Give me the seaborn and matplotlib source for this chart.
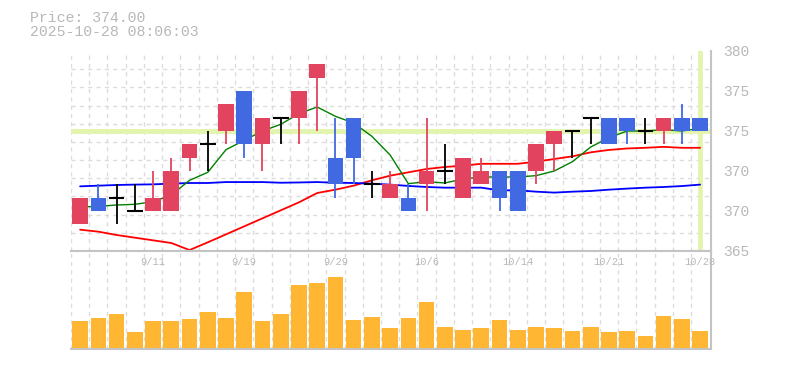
import numpy as np
import matplotlib
matplotlib.use("Agg")
import matplotlib.pyplot as plt
import seaborn as sns

sns.set_theme(style="white")
plt.rcParams["font.family"] = ["Liberation Mono", "DejaVu Sans Mono"]

# -----------------------------
# Data
# -----------------------------
last_price = 374.0
stamp = "2025-10-28 08:06:03"

opens = [367, 369, 369, 368, 368, 368, 372, 373, 374, 377, 373, 375, 375, 378, 372, 375, 370, 369,
         369, 370, 371, 369, 370, 371, 371, 371, 373, 374, 375, 375, 375, 374, 374, 375, 375]
closes = [369, 368, 369, 368, 369, 371, 373, 373, 376, 373, 375, 375, 377, 379, 370, 372, 370, 370,
          368, 371, 371, 372, 371, 369, 368, 373, 374, 374, 375, 373, 374, 374, 375, 374, 374]
highs = [369, 370, 370, 370, 371, 372, 373, 374, 376, 377, 375, 375, 377, 379, 375, 375, 371, 371,
         370, 375, 373, 372, 372, 371, 371, 373, 374, 374, 375, 375, 375, 375, 375, 376, 375]
lows = [367, 368, 367, 368, 368, 368, 371, 371, 373, 372, 371, 373, 373, 374, 369, 370, 369, 369,
        368, 368, 370, 369, 370, 368, 368, 370, 371, 372, 373, 373, 373, 373, 373, 373, 374]

ma_short = [368.3, 368.35, 368.45, 368.5, 368.7, 369.2, 370.3, 370.9, 372.6, 373.3, 374.0, 374.5,
            375.3, 375.8, 375.1, 374.6, 373.6, 372.2, 370.05, 370.2, 370.1, 370.4, 370.55, 370.55,
            370.55, 370.65, 371.0, 371.7, 372.8, 373.5, 374.0, 374.0, 374.1, 374.0, 374.2]
ma_mid = [366.6, 366.45, 366.2, 366.0, 365.8, 365.6, 365.07, 365.65, 366.25, 366.85, 367.45, 368.05,
          368.65, 369.35, 369.6, 369.9, 370.3, 370.65, 370.9, 371.15, 371.3, 371.4, 371.54, 371.54,
          371.54, 371.7, 371.9, 372.1, 372.4, 372.58, 372.69, 372.74, 372.81, 372.74, 372.74]
ma_long = [369.85, 369.9, 369.95, 369.98, 370.0, 370.05, 370.1, 370.1, 370.17, 370.17, 370.17, 370.12,
           370.14, 370.17, 370.12, 370.1, 370.05, 369.98, 369.88, 369.8, 369.75, 369.75, 369.75, 369.55,
           369.55, 369.45, 369.38, 369.45, 369.5, 369.6, 369.68, 369.75, 369.8, 369.87, 369.98]

volume = [80, 89, 101, 47, 80, 80, 86, 107, 89, 167, 80, 101, 188, 194, 212, 83, 92, 59,
          89, 137, 62, 53, 59, 83, 53, 62, 59, 50, 62, 47, 50, 35, 95, 86, 50]

date_ticks = [4, 9, 14, 19, 24, 29, 34]
date_labels = ["9/11", "9/19", "9/29", "10/6", "10/14", "10/21", "10/28"]

price_ticks = [365, 368, 371, 374, 377, 380]
price_labels = ["365", "370", "370", "375", "375", "380"]

# -----------------------------
# Colours
# -----------------------------
UP = "#E2435F"
DOWN = "#4169E1"
VOL = "#FFB733"
MARK = "#E3F4AE"
GRID = "#DCDCDC"
FRAME = "#C4C4C4"
TXT = "#B8B8B8"

x = np.arange(len(opens))
o = np.array(opens, float)
c = np.array(closes, float)
h = np.array(highs, float)
l = np.array(lows, float)

fig = plt.figure(figsize=(7.85, 3.70), dpi=100)
ax = fig.add_axes([71 / 785, 119 / 370, 639.7 / 785, 200 / 370])
axv = fig.add_axes([71 / 785, 20.7 / 370, 639.7 / 785, 98.3 / 370])

# current price markers
ax.axhline(last_price, color=MARK, lw=3.5, zorder=1)
ax.axvline(x[-1], ymin=0.015, ymax=0.995, color=MARK, lw=3.5, zorder=1)

# moving averages
sns.lineplot(x=x, y=ma_mid, color="#FF0000", lw=1.3, ax=ax, zorder=2)
sns.lineplot(x=x, y=ma_long, color="#0000FF", lw=1.3, ax=ax, zorder=2)
sns.lineplot(x=x, y=ma_short, color="#008000", lw=1.0, ax=ax, zorder=2)

# candles
up = c > o
dn = c < o
dj = c == o
wick_cols = np.where(up, UP, np.where(dn, DOWN, "black"))
ax.vlines(x, l, h, colors=list(wick_cols), lw=1.3, zorder=3)
bw = 0.86
ax.bar(x[up], c[up] - o[up], bottom=o[up], width=bw, color=UP, lw=0, zorder=4)
ax.bar(x[dn], o[dn] - c[dn], bottom=c[dn], width=bw, color=DOWN, lw=0, zorder=4)
ax.hlines(c[dj], x[dj] - bw / 2, x[dj] + bw / 2, color="black", lw=1.5, zorder=5)

ax.set_xlim(-0.5, 34.58)
ax.set_ylim(365, 380)
ax.set_yticks(price_ticks, labels=price_labels)
ax.set_yticks(np.linspace(365, 380, 12), minor=True)
ax.set_xticks([])
ax.set_xticks(np.arange(-0.5, 34, 1), minor=True)
ax.yaxis.tick_right()
ax.tick_params(axis="y", which="major", length=0, pad=9, labelsize=10.5, labelcolor=TXT)
ax.tick_params(which="minor", length=0)
ax.grid(False)
ax.grid(which="minor", color=GRID, ls=(0, (3, 3)), lw=1)
ax.set_xlabel("")
ax.set_ylabel("")
for side in ["top", "left"]:
    ax.spines[side].set_visible(False)
for side in ["right", "bottom"]:
    ax.spines[side].set_color(FRAME)
    ax.spines[side].set_linewidth(1.5)

# volume
sns.barplot(x=x, y=volume, ax=axv, color=VOL, saturation=1, width=bw, linewidth=0)
axv.set_xlim(-0.5, 34.58)
axv.set_ylim(-5, 291)
axv.set_yticks([])
axv.set_xticks([])
axv.set_xticks(np.arange(-0.5, 34, 1), minor=True)
axv.tick_params(which="minor", length=0)
axv.grid(False)
axv.grid(which="minor", axis="x", color=GRID, ls=(0, (3, 3)), lw=1)
axv.set_xlabel("")
axv.set_ylabel("")
axv.spines["left"].set_visible(False)
for side in ["top", "right", "bottom"]:
    axv.spines[side].set_color(FRAME)
    axv.spines[side].set_linewidth(1.5)
for pos, lab in zip(date_ticks, date_labels):
    axv.text(pos, 0.885, lab, transform=axv.get_xaxis_transform(), ha="center", va="center",
             fontsize=7.5, color=TXT)

# header
fig.text(30 / 785, 1 - 18 / 370, f"Price: {last_price:.2f}", fontsize=10.7, color=TXT, va="center")
fig.text(30 / 785, 1 - 32.5 / 370, stamp, fontsize=10.7, color=TXT, va="center")

fig.savefig("out.png", dpi=100)
